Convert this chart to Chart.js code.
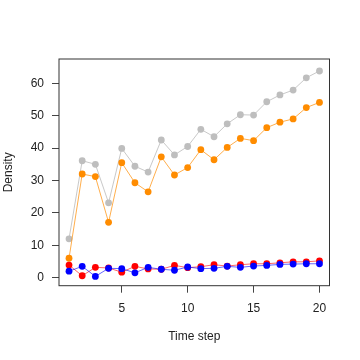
<!DOCTYPE html>
<html>
<head>
<meta charset="utf-8">
<script src="https://cdn.jsdelivr.net/npm/chart.js@4.4.1/dist/chart.umd.min.js"></script>
<style>
html,body{margin:0;padding:0;background:#fff;}
#c{display:block;}
</style>
</head>
<body>
<canvas id="c" width="360" height="360"></canvas>
<script>
const timeSteps = [1,2,3,4,5,6,7,8,9,10,11,12,13,14,15,16,17,18,19,20];
const greySeries = [12.0,36.1,35.0,23.1,39.9,34.4,32.6,42.5,37.9,40.5,45.8,43.5,47.5,50.3,50.2,54.3,56.4,57.9,61.7,63.8];
const orangeSeries = [6.0,32.0,31.2,17.1,35.5,29.3,26.5,37.3,31.7,34.0,39.5,36.4,40.2,43.0,42.3,46.3,48.0,49.0,52.5,54.1];
const redSeries = [3.9,0.6,3.2,3.0,1.7,3.5,2.7,2.6,3.8,3.1,3.4,4.0,3.6,4.0,4.3,4.3,4.6,4.9,4.9,5.2];
const blueSeries = [2.0,3.5,0.4,2.9,2.8,1.5,3.2,2.6,2.3,3.3,2.8,2.9,3.5,3.2,3.6,3.8,4.1,4.2,4.3,4.3];
const xTicks = [5,10,15,20];
const yTicks = [0,10,20,30,40,50,60];

function pts(vals){ return timeSteps.map((t,i)=>({x:t,y:vals[i]})); }

const boxPlugin = {
  id:'box',
  afterDraw(chart){
    const {ctx, chartArea:a} = chart;
    ctx.save();
    ctx.strokeStyle = '#333';
    ctx.lineWidth = 1;
    ctx.strokeRect(a.left, a.top, a.right-a.left, a.bottom-a.top);
    ctx.restore();
  }
};
const bgPlugin = {
  id:'bg',
  beforeDraw(chart){
    const ctx = chart.ctx;
    ctx.save(); ctx.fillStyle='#fff'; ctx.fillRect(0,0,chart.width,chart.height); ctx.restore();
  }
};

function ds(vals, pointColor, lineColor, order){
  return {
    data: pts(vals),
    borderColor: lineColor,
    backgroundColor: pointColor,
    pointBackgroundColor: pointColor,
    pointBorderColor: pointColor,
    pointBorderWidth: 0,
    pointRadius: 3.4,
    borderWidth: 1,
    tension: 0,
    clip: false,
    order: order
  };
}

const font = {family:'"Liberation Sans", Arial, sans-serif', size:12};

new Chart(document.getElementById('c'), {
  type:'line',
  data:{
    datasets:[
      ds(greySeries, '#bebebe', 'rgba(190,190,190,0.85)', 4),
      ds(orangeSeries, '#ff8c00', 'rgba(255,140,0,0.7)', 3),
      ds(redSeries, '#ff0000', 'rgba(255,0,0,0.6)', 2),
      ds(blueSeries, '#0000ff', 'rgba(0,0,255,0.6)', 1)
    ]
  },
  options:{
    responsive:false,
    animation:false,
    events:[],
    layout:{padding:{top:59,right:30.5,left:0,bottom:0}},
    plugins:{legend:{display:false},tooltip:{enabled:false}},
    scales:{
      x:{
        type:'linear',
        min:0.24, max:20.76,
        afterBuildTicks(s){ s.ticks = xTicks.map(v=>({value:v})); },
        afterFit(s){ s.height = 74.3; },
        grid:{display:true, drawOnChartArea:false, drawTicks:true, tickLength:7, color:'#444', lineWidth:1},
        border:{display:false},
        ticks:{font:font, color:'#222', padding:9, maxRotation:0, autoSkip:false},
        title:{display:true, text:'Time step', font:font, color:'#222', padding:{top:0,bottom:16.5}}
      },
      y:{
        type:'linear',
        min:-2.47, max:67.5,
        afterBuildTicks(s){ s.ticks = yTicks.map(v=>({value:v})); },
        afterFit(s){ s.width = 59; },
        grid:{display:true, drawOnChartArea:false, drawTicks:true, tickLength:7, color:'#444', lineWidth:1},
        border:{display:false},
        ticks:{font:font, color:'#222', padding:8, autoSkip:false},
        title:{display:true, text:'Density', font:font, color:'#222', padding:{top:1.5,bottom:0}}
      }
    }
  },
  plugins:[bgPlugin, boxPlugin]
});
</script>
</body>
</html>
